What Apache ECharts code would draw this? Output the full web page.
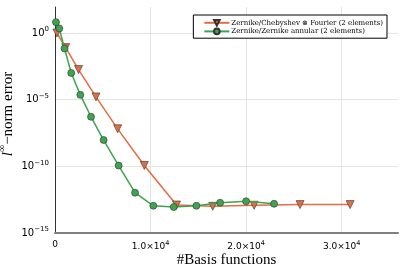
<!DOCTYPE html>
<html><head><meta charset="utf-8">
<script src="https://cdn.jsdelivr.net/npm/echarts@6/dist/echarts.min.js"></script>
<style>html,body{margin:0;padding:0;background:#fff}#c{width:407px;height:271px}</style>
</head><body><div id="c"></div>
<script>
const seriesNames = ['Zernike/Chebyshev \u2297 Fourier (2 elements)', 'Zernike/Zernike annular (2 elements)'];
const orangeX = [200, 1120, 2460, 4290, 6560, 9350, 12720, 16510, 20840, 25650, 30890];
const orangeY = [1.0, 0.08, 1.8e-3, 1.6e-5, 6.5e-8, 1.15e-10, 1.26e-13, 1.0e-13, 1.2e-13, 1.35e-13, 1.35e-13];
const greenX = [100, 450, 995, 1700, 2650, 3770, 5090, 6660, 8380, 10290, 12430, 14800, 17280, 20000, 22930];
const greenY = [6.5, 2.2, 0.069, 1.0e-3, 2.3e-5, 5.2e-7, 9.4e-9, 1.15e-10, 1.05e-12, 1.1e-13, 8.9e-14, 1.1e-13, 1.86e-13, 2.4e-13, 1.55e-13];
const xTicks = [0, 10000, 20000, 30000];
const yTickExps = [0, -5, -10, -15];

const chart = echarts.init(document.getElementById('c'), null, {renderer: 'canvas'});
const zip = (a, b) => a.map((v, i) => [v, b[i]]);
const sans = 'DejaVu Sans';
const serif = 'DejaVu Serif';
chart.setOption({
  animation: false,
  backgroundColor: '#fff',
  grid: {left: 55, right: 9, top: 7, bottom: 38, containLabel: false, outerBoundsMode: 'none'},
  legend: {
    orient: 'vertical', right: 20, top: 15,
    backgroundColor: '#fff', borderColor: '#000', borderWidth: 1,
    padding: [4, 4, 3, 10], itemGap: 1, itemWidth: 25, itemHeight: 7,
    textStyle: {fontFamily: serif, fontSize: 7, color: '#000', padding: [0, 0, 0, -3]},
    data: seriesNames
  },
  xAxis: {
    type: 'value', min: 0, max: 35900, interval: 10000,
    name: '#Basis functions', nameLocation: 'middle', nameGap: 20, nameMoveOverlap: false,
    nameTextStyle: {fontFamily: 'Liberation Serif', fontSize: 15, color: '#000'},
    axisLine: {show: true, lineStyle: {color: '#7f7f7f', width: 2}},
    axisTick: {show: false},
    splitLine: {show: true, showMaxLine: false, lineStyle: {color: '#e4e4e4', width: 1}},
    axisLabel: {
      showMaxLabel: false, margin: 7,
      formatter: v => xTicks.indexOf(v) < 0 ? '' : (v === 0 ? '{b|0}' : '{b|' + (v / 1e4).toFixed(1) + '\u00d710}{s|4}'),
      rich: {b: {fontFamily: sans, fontSize: 9, color: '#000'}, s: {fontFamily: sans, fontSize: 6.5, color: '#000', padding: [0, 0, 6, 0]}}
    }
  },
  yAxis: {
    type: 'log', logBase: 10, min: 1e-15, max: 89, interval: 5,
    name: '{i|l}{s|\u221e}{n|\u2212norm error}', nameLocation: 'middle', nameGap: 36, nameRotate: 90, nameMoveOverlap: false,
    nameTextStyle: {
      padding: [0, 0, 0, 12],
      rich: {
        i: {fontFamily: 'Liberation Serif', fontStyle: 'italic', fontSize: 15, color: '#000'},
        s: {fontFamily: 'Liberation Serif', fontSize: 10, color: '#000', padding: [0, 0, 12, 0]},
        n: {fontFamily: 'Liberation Serif', fontSize: 15, color: '#000'}
      }
    },
    axisLine: {show: true, lineStyle: {color: '#333', width: 1}},
    axisTick: {show: false},
    splitLine: {show: true, showMaxLine: false, showMinLine: false, lineStyle: {color: '#e4e4e4', width: 1}},
    axisLabel: {
      showMaxLabel: false, margin: 6,
      formatter: v => {
        const e = Math.round(Math.log10(v));
        if (yTickExps.indexOf(e) < 0) return '';
        return '{b|10}{s|' + (e < 0 ? '\u2212' + (-e) : e) + '}';
      },
      rich: {b: {fontFamily: sans, fontSize: 10, color: '#000'}, s: {fontFamily: sans, fontSize: 7, color: '#000', padding: [0, 0, 7, 0]}}
    }
  },
  series: [
    {
      name: seriesNames[0], type: 'line', data: zip(orangeX, orangeY),
      symbol: 'triangle', symbolRotate: 180, symbolSize: 8,
      lineStyle: {color: '#e26d44', width: 1.5},
      itemStyle: {color: '#e26d44', borderColor: '#333', borderWidth: 0.6},
      z: 2
    },
    {
      name: seriesNames[1], type: 'line', data: zip(greenX, greenY),
      symbol: 'circle', symbolSize: 7,
      lineStyle: {color: '#3ea44f', width: 1.5},
      itemStyle: {color: '#3ea44f', borderColor: '#333', borderWidth: 0.6},
      z: 3
    }
  ]
});
</script></body></html>
